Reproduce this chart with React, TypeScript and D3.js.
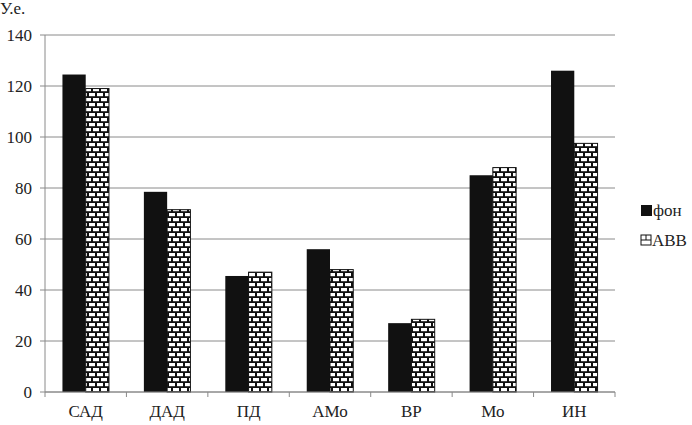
import React from "react";
import * as d3 from "d3";

const categories = ["САД", "ДАД", "ПД", "АМо", "ВР", "Мо", "ИН"];
const fonValues = [124.5, 78.5, 45.5, 56, 27, 85, 126];
const avvValues = [119, 71.5, 47, 48, 28.5, 88, 97.5];
const seriesNames = ["фон", "АВВ"];
const yTicks = [0, 20, 40, 60, 80, 100, 120, 140];

const W = 692, H = 425;
const left = 45, right = 615, top = 35, bottom = 392;

export default function App() {
  const x = d3.scaleBand<string>().domain(categories).range([left, right]).paddingInner(0).paddingOuter(0);
  const y = d3.scaleLinear().domain([0, 140]).range([bottom, top]);
  const bw = x.bandwidth();
  const barW = bw / 3.5;
  const gap = (bw - 2 * barW) / 2;
  const font = "Liberation Serif, DejaVu Serif, Times New Roman, serif";
  const ts = { fontFamily: font, fontSize: 17, fill: "#222" } as React.CSSProperties;
  return (
    <svg width={W} height={H} style={{ position: "absolute", left: 0, top: 0, background: "#fff" }}>
      <defs>
        <pattern id="brick" patternUnits="userSpaceOnUse" width="8" height="10" x={0} y={bottom}>
          <rect width="8" height="10" fill="#111" />
          <rect x="1" y="1" width="6" height="3.2" fill="#fff" />
          <rect x="-3" y="6" width="6" height="3.2" fill="#fff" />
          <rect x="5" y="6" width="6" height="3.2" fill="#fff" />
        </pattern>
      </defs>
      {yTicks.map((t) => (
        <g key={t}>
          <line x1={left - 5} x2={right} y1={y(t)} y2={y(t)} stroke="#8a8a8a" strokeWidth={1} />
          <text x={left - 13} y={y(t) + 6} textAnchor="end" style={ts}>{t}</text>
        </g>
      ))}
      <line x1={left} x2={left} y1={top} y2={bottom} stroke="#8a8a8a" />
      {categories.map((c, i) => (
        <g key={c}>
          <rect x={x(c)! + gap} y={y(fonValues[i])} width={barW} height={bottom - y(fonValues[i])} fill="#111" />
          <rect x={x(c)! + gap + barW} y={y(avvValues[i])} width={barW} height={bottom - y(avvValues[i])} fill="url(#brick)" stroke="#111" strokeWidth={1} />
          <text x={x(c)! + bw / 2} y={417} textAnchor="middle" style={ts}>{c}</text>
        </g>
      ))}
      <line x1={left} x2={right} y1={bottom} y2={bottom} stroke="#8a8a8a" />
      {[...categories.map((c) => x(c)!), right].map((tx, i) => (
        <line key={i} x1={tx} x2={tx} y1={bottom} y2={bottom + 5} stroke="#8a8a8a" />
      ))}
      <text x={0} y={14} style={ts}>У.е.</text>
      <rect x={641} y={205} width={11} height={11} fill="#111" />
      <text x={653} y={216} style={ts}>{seriesNames[0]}</text>
      <rect x={641} y={235} width={10} height={10} fill="#fff" stroke="#111" />
      <line x1={641} x2={651} y1={240} y2={240} stroke="#111" />
      <line x1={646} x2={646} y1={235} y2={240} stroke="#111" />
      <text x={652} y={246} style={ts}>{seriesNames[1]}</text>
    </svg>
  );
}
